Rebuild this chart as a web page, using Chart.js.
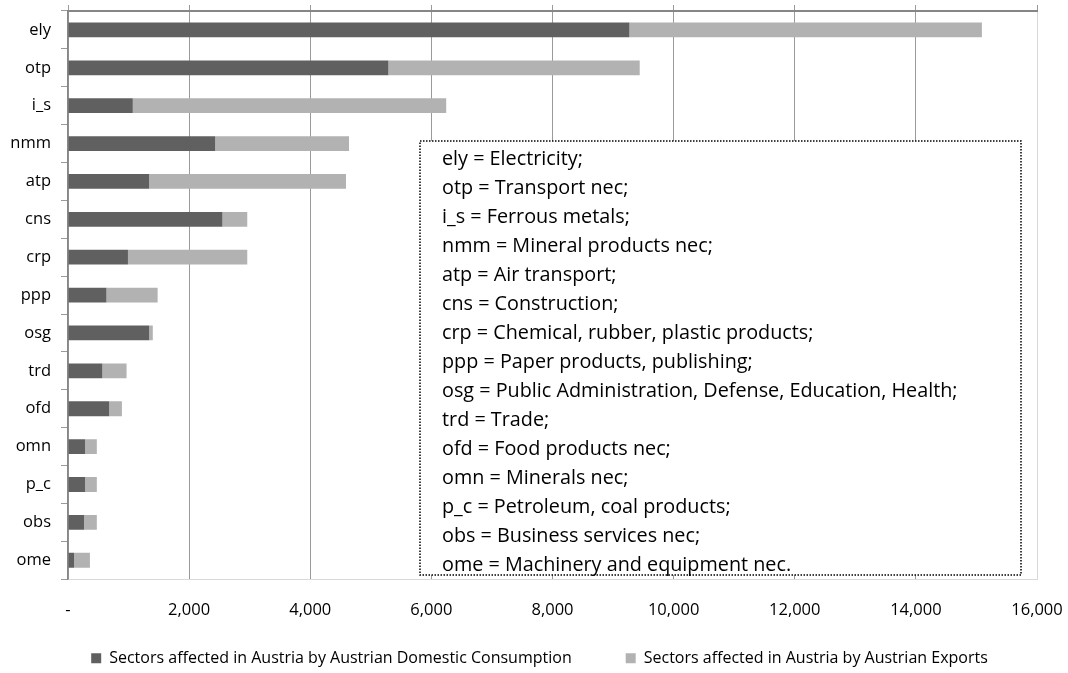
<!DOCTYPE html>
<html>
<head>
<meta charset="utf-8">
<script src="https://cdn.jsdelivr.net/npm/chart.js@4/dist/chart.umd.min.js"></script>
<style>
  html, body { margin: 0; padding: 0; background: #fff; }
  #wrap { width: 1068px; height: 673px; }
</style>
</head>
<body>
<div id="wrap"><canvas id="c"></canvas></div>
<script>
// sector codes, top to bottom
const sectors = ['ely', 'otp', 'i_s', 'nmm', 'atp', 'cns', 'crp', 'ppp', 'osg', 'trd', 'ofd', 'omn', 'p_c', 'obs', 'ome'];
const domestic = [9270, 5290, 1070, 2430, 1340, 2550, 990, 635, 1340, 567, 680, 282, 282, 264, 100];
const exportsAT = [5820, 4150, 5175, 2210, 3250, 410, 1970, 845, 60, 400, 210, 194, 194, 212, 262];
const seriesNames = ['Sectors affected in Austria by Austrian Domestic Consumption', 'Sectors affected in Austria by Austrian Exports'];
const xTicks = [0, 2000, 4000, 6000, 8000, 10000, 12000, 14000, 16000];
const glossary = [
  'ely = Electricity;',
  'otp = Transport nec;',
  'i_s = Ferrous metals;',
  'nmm = Mineral products nec;',
  'atp = Air transport;',
  'cns = Construction;',
  'crp = Chemical, rubber, plastic products;',
  'ppp = Paper products, publishing;',
  'osg = Public Administration, Defense, Education, Health;',
  'trd = Trade;',
  'ofd = Food products nec;',
  'omn = Minerals nec;',
  'p_c = Petroleum, coal products;',
  'obs = Business services nec;',
  'ome = Machinery and equipment nec.'
];

const FONT = '"Open Sans", Lato, sans-serif';

// dotted text box with the sector glossary
const glossaryBox = {
  id: 'glossaryBox',
  afterLayout(chart) {
    // pull the legend up so it sits close under the tick labels
    const l = chart.legend;
    l.top = chart.chartArea.bottom + 17;
    l.bottom = chart.height;
    l.height = l.bottom - l.top;
    l.right = chart.width + 11;
  },
  afterDraw(chart) {
    const ctx = chart.ctx;
    const x0 = 420, y0 = 141, x1 = 1021, y1 = 575;
    ctx.save();
    ctx.fillStyle = '#fff';
    ctx.fillRect(x0, y0, x1 - x0, y1 - y0);
    ctx.setLineDash([1.5, 1.5]);
    ctx.strokeStyle = '#000';
    ctx.lineWidth = 1.5;
    ctx.strokeRect(x0, y0, x1 - x0, y1 - y0);
    ctx.setLineDash([]);
    ctx.fillStyle = '#000';
    ctx.font = '19.8px ' + FONT;
    ctx.textBaseline = 'middle';
    glossary.forEach((t, i) => ctx.fillText(t, 442, 159 + i * 29.05));
    ctx.restore();
  }
};

new Chart(document.getElementById('c'), {
  type: 'bar',
  data: {
    labels: sectors,
    datasets: [
      { label: seriesNames[0], data: domestic, backgroundColor: '#606060', barPercentage: 0.39, categoryPercentage: 1 },
      { label: seriesNames[1], data: exportsAT, backgroundColor: '#b2b2b2', barPercentage: 0.39, categoryPercentage: 1 }
    ]
  },
  options: {
    indexAxis: 'y',
    responsive: true,
    maintainAspectRatio: false,
    animation: false,
    layout: { padding: { top: 5, right: 31, left: 0, bottom: -23 } },
    scales: {
      x: {
        stacked: true,
        position: 'bottom',
        min: 0, max: 16000,
        afterBuildTicks: s => { s.ticks = xTicks.map(v => ({ value: v })); },
        afterFit: s => { s.paddingRight = 0; s.paddingLeft = 0; },
        ticks: {
          padding: 21,
          color: '#000',
          font: { family: FONT, size: 16.5 },
          callback: v => v === 0 ? '-' : v.toLocaleString('en-US')
        },
        grid: {
          drawTicks: false,
          color: c => (c.tick && c.tick.value === 16000) ? '#d9d9d9' : '#9a9a9a',
          lineWidth: 1
        },
        border: { color: '#d9d9d9', width: 1 }
      },
      x2: {
        type: 'linear',
        position: 'top',
        min: 0, max: 16000,
        afterBuildTicks: s => { s.ticks = xTicks.map(v => ({ value: v })); },
        afterFit: s => { s.paddingRight = 0; s.paddingLeft = 0; },
        ticks: { display: false },
        grid: { drawOnChartArea: false, tickLength: 6, color: '#9a9a9a' },
        border: { color: '#868686', width: 2 }
      },
      y: {
        stacked: true,
        afterFit: s => { s.width = 68; s.paddingTop = 0; s.paddingBottom = 0; },
        ticks: {
          padding: 10,
          color: '#000',
          font: { family: FONT, size: 16.5 }
        },
        grid: { offset: true, drawOnChartArea: false, tickLength: 7, color: '#9a9a9a' },
        border: { color: '#868686', width: 1.5 }
      }
    },
    plugins: {
      legend: {
        position: 'bottom',
        maxHeight: 55,
        labels: {
          boxWidth: 10,
          boxHeight: 10,
          padding: 54,
          color: '#000',
          font: { family: FONT, size: 16 }
        }
      },
      tooltip: { enabled: false }
    }
  },
  plugins: [glossaryBox]
});
</script>
</body>
</html>
